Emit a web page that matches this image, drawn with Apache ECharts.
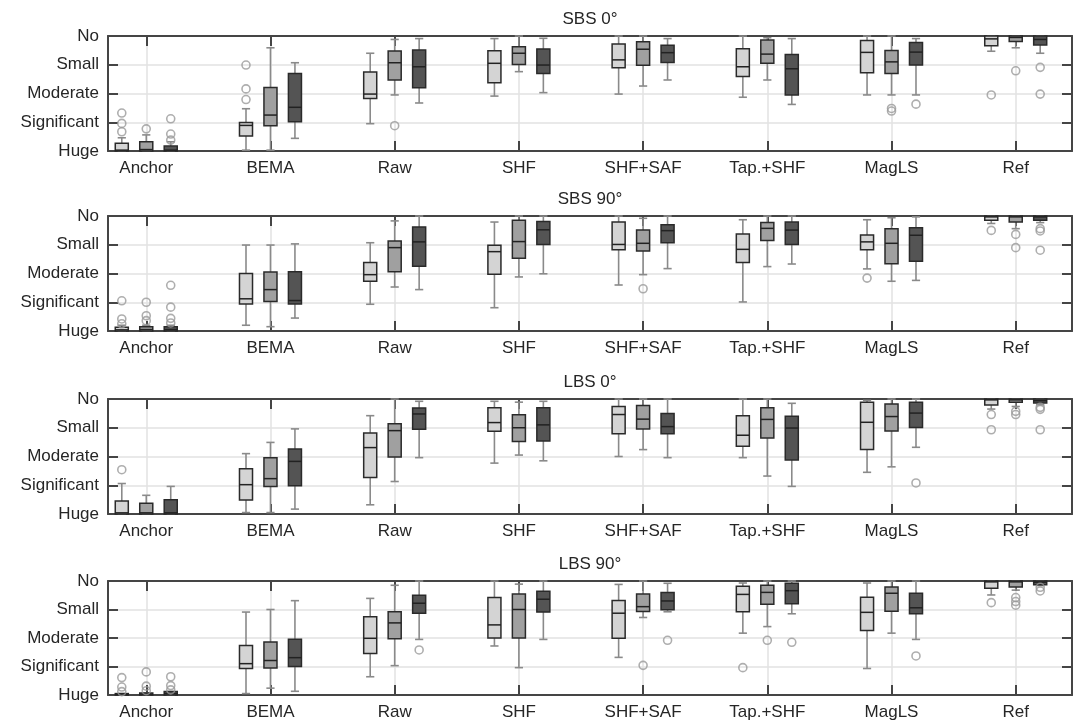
<!DOCTYPE html>
<html>
<head>
<meta charset="utf-8">
<script src="https://cdn.jsdelivr.net/npm/echarts@6/dist/echarts.min.js"></script>
<style>
html,body{margin:0;padding:0;background:#fff;}
#chart{width:1073px;height:721px;}
</style>
</head>
<body>
<div id="chart"></div>
<script>
// ---------- DATA ----------
const categories = ['Anchor', 'BEMA', 'Raw', 'SHF', 'SHF+SAF', 'Tap.+SHF', 'MagLS', 'Ref'];
const levels = ['Huge', 'Significant', 'Moderate', 'Small', 'No'];
const panelTitles = ['SBS 0°', 'SBS 90°', 'LBS 0°', 'LBS 90°'];

// each row: [lower whisker, Q1, median, Q3, upper whisker], one row per category
const sbs0_light = [[0,0,0.03,0.27,0.46],[0.03,0.52,0.89,0.99,1.47],[0.95,1.83,1.98,2.75,3.40],[1.91,2.37,3.05,3.49,3.91],[1.98,2.90,3.17,3.72,4.0],[1.87,2.59,2.93,3.56,4.0],[1.95,2.72,3.43,3.84,4.0],[3.47,3.66,3.90,4.0,4.0]];
const sbs0_mid   = [[0,0,0.05,0.32,0.56],[0.03,0.88,1.25,2.21,3.59],[1.95,2.47,3.07,3.48,3.88],[2.76,3.01,3.40,3.63,4.0],[2.26,2.98,3.54,3.80,4.0],[2.47,3.05,3.37,3.86,3.94],[1.95,2.70,3.10,3.50,4.0],[3.59,3.81,3.95,4.0,4.0]];
const sbs0_dark  = [[0,0,0.03,0.17,0.32],[0.44,1.02,1.52,2.70,3.07],[1.67,2.20,2.93,3.51,3.91],[2.03,2.70,2.99,3.55,3.92],[2.47,3.08,3.42,3.68,3.91],[1.62,1.95,2.86,3.36,3.91],[1.95,2.99,3.44,3.77,3.91],[3.40,3.69,3.88,4.0,4.0]];
// outliers: [category index, box index (0 light,1 mid,2 dark), value]
const sbs0_out = [[0,0,0.67],[0,0,0.96],[0,0,1.32],[0,1,0.77],[0,2,0.38],[0,2,0.59],[0,2,1.12],[1,0,1.79],[1,0,2.16],[1,0,2.99],[2,1,0.88],[6,1,1.48],[6,1,1.39],[6,2,1.63],[7,0,1.95],[7,1,2.79],[7,2,2.91],[7,2,1.98]];

const sbs90_light = [[0,0,0.04,0.13,0.2],[0.2,0.94,1.12,2.0,2.99],[0.93,1.73,1.96,2.38,3.07],[0.81,1.97,2.76,2.98,3.79],[1.6,2.83,3.01,3.79,4.0],[1.01,2.38,2.84,3.37,3.87],[2.16,2.83,3.10,3.34,3.87],[3.74,3.85,3.97,4.0,4.0]];
const sbs90_mid   = [[0,0,0.05,0.15,0.2],[0.15,1.03,1.44,2.05,2.99],[1.53,2.06,2.90,3.13,3.83],[1.88,2.53,3.11,3.85,4.0],[1.96,2.78,3.05,3.51,3.92],[2.24,3.15,3.57,3.77,4.0],[1.73,2.34,3.05,3.56,3.94],[3.56,3.79,3.97,4.0,4.0]];
const sbs90_dark  = [[0,0,0.05,0.15,0.2],[0.45,0.94,1.06,2.06,3.03],[1.44,2.25,3.10,3.62,4.0],[1.99,3.01,3.52,3.81,4.0],[2.17,3.07,3.49,3.70,4.0],[2.33,3.01,3.51,3.79,4.0],[1.76,2.43,3.33,3.59,3.97],[3.77,3.85,3.97,4.0,4.0]];
const sbs90_out = [[0,0,1.05],[0,0,0.42],[0,0,0.25],[0,1,1.0],[0,1,0.53],[0,1,0.36],[0,2,1.59],[0,2,0.83],[0,2,0.44],[0,2,0.28],[4,1,1.47],[6,0,1.84],[7,0,3.5],[7,1,3.36],[7,1,2.90],[7,2,3.56],[7,2,3.48],[7,2,2.81]];

const lbs0_light = [[0,0,0.04,0.45,1.06],[0.05,0.49,1.02,1.57,2.10],[0.32,1.27,2.31,2.82,3.42],[1.77,2.88,3.18,3.70,3.92],[2.0,2.79,3.46,3.74,4.0],[1.96,2.36,2.74,3.42,4.0],[1.45,2.24,3.19,3.89,3.95],[3.65,3.79,3.97,4.0,4.0]];
const lbs0_mid   = [[0,0,0.04,0.37,0.65],[0.05,0.96,1.23,1.96,2.49],[1.13,1.98,2.90,3.14,4.0],[2.05,2.52,3.0,3.45,3.89],[2.24,2.96,3.30,3.77,4.0],[1.32,2.64,3.29,3.70,4.0],[1.64,2.89,3.39,3.83,4.0],[3.74,3.89,3.97,4.0,4.0]];
const lbs0_dark  = [[0,0,0.04,0.5,0.96],[0.17,0.98,1.83,2.26,2.96],[1.96,2.95,3.48,3.69,3.92],[1.85,2.54,3.10,3.70,3.92],[1.96,2.79,3.04,3.50,4.0],[0.96,1.88,2.99,3.40,3.85],[2.32,3.01,3.51,3.89,4.0],[3.80,3.86,3.94,4.0,4.0]];
const lbs0_out = [[0,0,1.54],[6,2,1.08],[7,0,3.46],[7,0,2.93],[7,1,3.57],[7,1,3.46],[7,2,3.71],[7,2,3.64],[7,2,2.93]];

const lbs90_light = [[0,0,0.02,0.05,0.05],[0.05,0.93,1.10,1.74,2.91],[0.64,1.46,1.99,2.75,3.39],[1.72,2.0,2.46,3.42,4.0],[1.32,1.99,2.87,3.32,3.88],[2.17,2.92,3.53,3.82,3.93],[0.93,2.26,2.90,3.43,3.93],[3.51,3.75,3.97,4.0,4.0]];
const lbs90_mid   = [[0,0,0.03,0.07,0.07],[0.24,0.95,1.21,1.86,3.0],[1.03,1.97,2.53,2.92,3.85],[0.96,2.0,3.0,3.54,3.89],[2.72,2.93,3.10,3.54,4.0],[2.40,3.18,3.60,3.85,4.0],[2.17,2.94,3.57,3.79,4.0],[3.68,3.79,3.97,4.0,4.0]];
const lbs90_dark  = [[0,0,0.05,0.12,0.12],[0.13,1.0,1.31,1.96,3.31],[1.95,2.87,3.22,3.50,4.0],[1.95,2.91,3.36,3.64,4.0],[2.92,2.99,3.30,3.60,3.92],[2.85,3.20,3.66,3.92,4.0],[1.95,2.85,3.06,3.57,4.0],[3.84,3.87,3.96,4.0,4.0]];
const lbs90_out = [[0,0,0.61],[0,0,0.28],[0,0,0.12],[0,1,0.81],[0,1,0.31],[0,1,0.15],[0,2,0.64],[0,2,0.33],[0,2,0.18],[2,2,1.58],[4,1,1.04],[4,2,1.92],[5,0,0.96],[5,1,1.92],[5,2,1.85],[6,2,1.37],[7,0,3.24],[7,1,3.42],[7,1,3.28],[7,1,3.15],[7,2,3.78],[7,2,3.65]];

const panels = [
  {boxes: [sbs0_light, sbs0_mid, sbs0_dark], out: sbs0_out},
  {boxes: [sbs90_light, sbs90_mid, sbs90_dark], out: sbs90_out},
  {boxes: [lbs0_light, lbs0_mid, lbs0_dark], out: lbs0_out},
  {boxes: [lbs90_light, lbs90_mid, lbs90_dark], out: lbs90_out}
];

// ---------- STYLE / LAYOUT ----------
const FONT = "'Liberation Sans', Arial, Helvetica, sans-serif";
const TEXT = '#262626';
const AXIS = '#454545';
const GRIDC = '#e2e2e2';
const FILLS = ['#d4d4d4', '#a0a0a0', '#545454'];
const OFFSETS = [-0.197, 0, 0.197];
const BOX_W = 0.105, CAP_W = 0.066;
const X_MIN = 0.692, X_MAX = 8.453;
const GRID_LEFT = 108, GRID_RIGHT = 1, GRID_H = 115;
const GRID_TOPS = [36, 216, 399, 581];

function renderBox(params, api) {
  const x = api.value(0);
  const lo = api.coord([x, api.value(1)]);
  const q1 = api.coord([x, api.value(2)]);
  const md = api.coord([x, api.value(3)]);
  const q3 = api.coord([x, api.value(4)]);
  const hi = api.coord([x, api.value(5)]);
  const fill = FILLS[api.value(6)];
  const hw = api.size([BOX_W, 0])[0] / 2;
  const cw = api.size([CAP_W, 0])[0] / 2;
  const cx = lo[0];
  const wst = {stroke: '#8a8a8a', lineWidth: 1.6};
  return {
    type: 'group',
    children: [
      {type: 'line', shape: {x1: cx, y1: hi[1], x2: cx, y2: q3[1]}, style: wst},
      {type: 'line', shape: {x1: cx, y1: q1[1], x2: cx, y2: lo[1]}, style: wst},
      {type: 'line', shape: {x1: cx - cw, y1: hi[1], x2: cx + cw, y2: hi[1]}, style: wst},
      {type: 'line', shape: {x1: cx - cw, y1: lo[1], x2: cx + cw, y2: lo[1]}, style: wst},
      {type: 'rect', shape: {x: cx - hw, y: q3[1], width: 2 * hw, height: Math.max(q1[1] - q3[1], 1)},
        style: {fill: fill, stroke: '#2a2a2a', lineWidth: 1.5}},
      {type: 'line', shape: {x1: cx - hw, y1: md[1], x2: cx + hw, y2: md[1]}, style: {stroke: '#222', lineWidth: 1.5}}
    ]
  };
}

const option = {
  animation: false,
  backgroundColor: '#fff',
  title: [], grid: [], xAxis: [], yAxis: [], series: []
};

const tickVals = categories.map((c, i) => i + 1);

panels.forEach((p, k) => {
  option.grid.push({left: GRID_LEFT, right: GRID_RIGHT, top: GRID_TOPS[k], height: GRID_H, containLabel: false});
  option.title.push({
    text: panelTitles[k], left: GRID_LEFT + (1073 - GRID_LEFT - GRID_RIGHT) / 2, top: GRID_TOPS[k] - 25,
    textAlign: 'center', padding: 0,
    textStyle: {fontFamily: FONT, fontSize: 17, fontWeight: 'normal', color: TEXT}
  });
  // bottom x axis
  option.xAxis.push({
    type: 'value', gridIndex: k, position: 'bottom', min: X_MIN, max: X_MAX,
    axisLine: {show: true, onZero: false, lineStyle: {color: AXIS, width: 2}},
    axisTick: {show: true, inside: true, length: 10, customValues: tickVals, lineStyle: {color: AXIS, width: 2}},
    axisLabel: {show: true, customValues: tickVals, margin: 9, fontFamily: FONT, fontSize: 17, color: TEXT,
      formatter: v => categories[Math.round(v) - 1] || ''},
    splitLine: {show: true, lineStyle: {color: GRIDC, width: 1.5}}
  });
  // top x axis
  option.xAxis.push({
    type: 'value', gridIndex: k, position: 'top', min: X_MIN, max: X_MAX,
    axisLine: {show: true, onZero: false, lineStyle: {color: AXIS, width: 2}},
    axisTick: {show: true, inside: true, length: 10, customValues: tickVals, lineStyle: {color: AXIS, width: 2}},
    axisLabel: {show: false},
    splitLine: {show: false}
  });
  // left y axis
  option.yAxis.push({
    type: 'value', gridIndex: k, position: 'left', min: 0, max: 4, interval: 1,
    axisLine: {show: true, onZero: false, lineStyle: {color: AXIS, width: 2}},
    axisTick: {show: true, inside: true, length: 10, lineStyle: {color: AXIS, width: 2}},
    axisLabel: {show: true, margin: 9, fontFamily: FONT, fontSize: 17, color: TEXT,
      formatter: v => levels[Math.round(v)]},
    splitLine: {show: true, lineStyle: {color: GRIDC, width: 1.5}}
  });
  // right y axis
  option.yAxis.push({
    type: 'value', gridIndex: k, position: 'right', min: 0, max: 4, interval: 1,
    axisLine: {show: true, onZero: false, lineStyle: {color: AXIS, width: 2}},
    axisTick: {show: true, inside: true, length: 10, lineStyle: {color: AXIS, width: 2}},
    axisLabel: {show: false},
    splitLine: {show: false}
  });

  p.boxes.forEach((arr, s) => {
    option.series.push({
      type: 'custom', xAxisIndex: 2 * k, yAxisIndex: 2 * k,
      renderItem: renderBox,
      encode: {x: 0, y: [1, 2, 3, 4, 5]},
      data: arr.map((r, i) => [i + 1 + OFFSETS[s], r[0], r[1], r[2], r[3], r[4], s]),
      z: 3
    });
  });
  option.series.push({
    type: 'scatter', xAxisIndex: 2 * k, yAxisIndex: 2 * k,
    symbol: 'circle', symbolSize: 8,
    itemStyle: {color: 'rgba(255,255,255,0)', borderColor: '#9a9a9a', borderWidth: 1.6},
    data: p.out.map(o => [o[0] + 1 + OFFSETS[o[1]], o[2]]),
    z: 4
  });
});

const chart = echarts.init(document.getElementById('chart'), null, {renderer: 'canvas'});
chart.setOption(option);
</script>
</body>
</html>
